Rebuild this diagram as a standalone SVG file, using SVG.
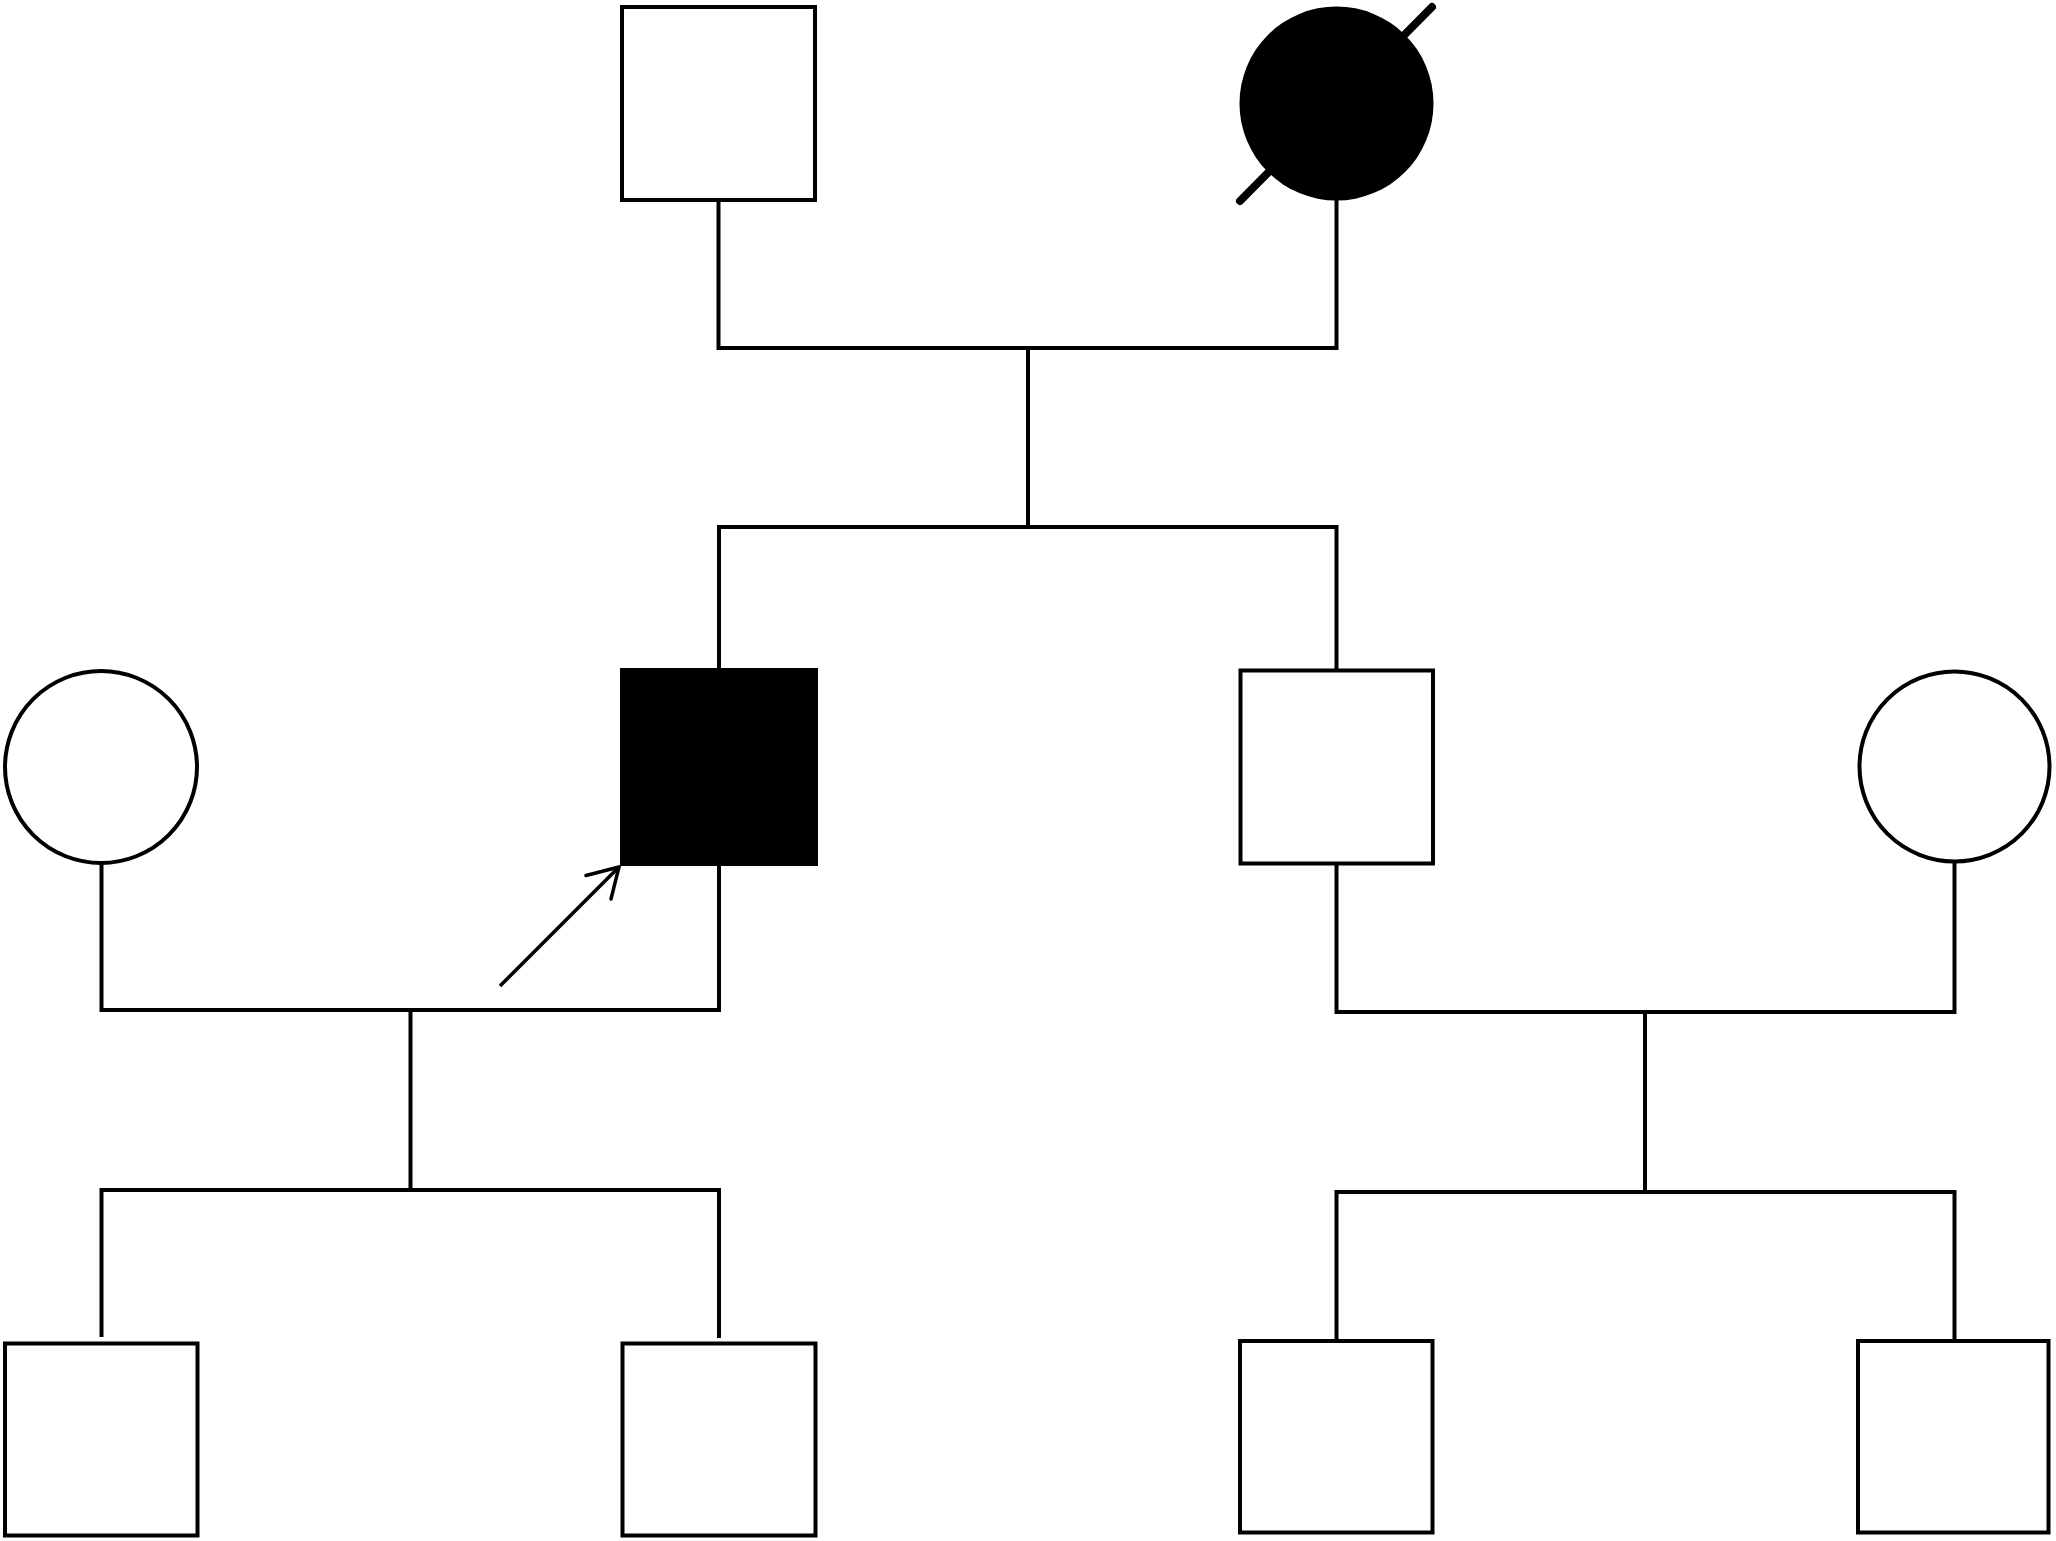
<svg xmlns="http://www.w3.org/2000/svg" width="2056" height="1541" viewBox="0 0 2056 1541">
<style>
.open{fill:#fff;stroke:#000;stroke-width:4}
.aff{fill:#000;stroke:#000;stroke-width:1}
.ln{fill:none;stroke:#000;stroke-width:4}
</style>
<rect x="0" y="0" width="2056" height="1541" fill="#fff"/>
<g id="connectors">
<polyline class="ln" points="718.5,200 718.5,348 1336.5,348 1336.5,200"/>
<line class="ln" x1="1028" y1="348" x2="1028" y2="527"/>
<polyline class="ln" points="719,668 719,527 1336.5,527 1336.5,673"/>
<polyline class="ln" points="101.5,863 101.5,1010 719,1010 719,866"/>
<line class="ln" x1="410.5" y1="1010" x2="410.5" y2="1190"/>
<polyline class="ln" points="101.5,1337 101.5,1190 719,1190 719,1338"/>
<polyline class="ln" points="1336.5,864 1336.5,1012 1954.5,1012 1954.5,862"/>
<line class="ln" x1="1645" y1="1012" x2="1645" y2="1192"/>
<polyline class="ln" points="1336.5,1341 1336.5,1192 1954.5,1192 1954.5,1341"/>
</g>
<g id="grandfather"><rect class="open" x="622" y="7" width="193" height="193"/></g>
<g id="grandmother">
<circle cx="1336.5" cy="103.5" r="97" fill="#000"/>
<line x1="1240" y1="201" x2="1432" y2="7" stroke="#000" stroke-width="8" stroke-linecap="round"/>
</g>
<g id="proband">
<rect class="aff" x="620.5" y="668.5" width="197" height="197"/>
<line x1="500" y1="986" x2="618" y2="868" stroke="#000" stroke-width="3.5"/>
<polyline points="586,875.5 619,867 611,899" fill="none" stroke="#000" stroke-width="3.5" stroke-linecap="round" stroke-linejoin="miter"/>
</g>
<g id="brother"><rect class="open" x="1240.5" y="670.5" width="192.5" height="193"/></g>
<g id="wife-left"><circle class="open" cx="101" cy="767" r="96"/></g>
<g id="wife-right"><circle class="open" cx="1954.5" cy="766.5" r="95"/></g>
<g id="child1"><rect class="open" x="5" y="1343.5" width="192.5" height="192"/></g>
<g id="child2"><rect class="open" x="622.5" y="1343.5" width="193" height="192"/></g>
<g id="child3"><rect class="open" x="1240" y="1341" width="192.5" height="191.5"/></g>
<g id="child4"><rect class="open" x="1858" y="1341" width="190.5" height="191.5"/></g>
</svg>
